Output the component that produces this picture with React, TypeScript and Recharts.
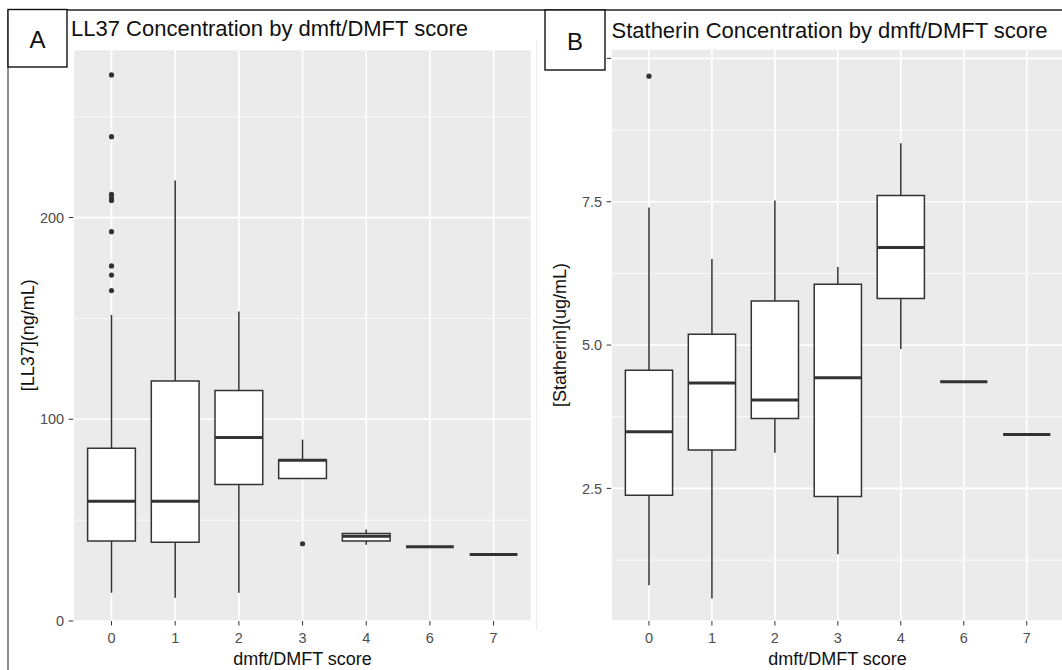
import React from "react";
import { ScatterChart, Scatter, XAxis, YAxis, CartesianGrid, ReferenceArea, ReferenceLine } from "recharts";

const scores = ["0", "1", "2", "3", "4", "6", "7"];

// LL37 (ng/mL) box statistics per dmft/DMFT score
const ll37Low = [14.0, 11.5, 14.0, 70.7, 37.8, 36.8, 33.0];
const ll37Q1 = [39.7, 39.0, 67.7, 70.7, 39.7, 36.8, 33.0];
const ll37Median = [59.3, 59.3, 91.0, 79.7, 42.0, 36.8, 33.0];
const ll37Q3 = [85.6, 119.0, 114.2, 79.9, 43.4, 36.8, 33.0];
const ll37High = [151.7, 218.3, 153.4, 89.9, 45.4, 36.8, 33.0];
const ll37OutlierScores = ["0", "0", "0", "0", "0", "0", "0", "0", "0", "3"];
const ll37OutlierValues = [270.7, 240.1, 211.5, 209.8, 208.5, 193.0, 176.0, 171.5, 163.8, 38.3];
const ll37Ticks = [0, 100, 200];
const ll37Minor = [50, 150, 250];

// Statherin (ug/mL)
const sthLow = [0.81, 0.58, 3.12, 1.35, 4.93, 4.36, 3.44];
const sthQ1 = [2.38, 3.17, 3.72, 2.36, 5.81, 4.36, 3.44];
const sthMedian = [3.49, 4.34, 4.04, 4.43, 6.7, 4.36, 3.44];
const sthQ3 = [4.56, 5.19, 5.77, 6.06, 7.61, 4.36, 3.44];
const sthHigh = [7.4, 6.5, 7.52, 6.36, 8.52, 4.36, 3.44];
const sthOutlierScores = ["0"];
const sthOutlierValues = [9.69];
const sthTicks = [2.5, 5, 7.5, 10];
const sthMinor = [1.25, 3.75, 6.25, 8.75];

const FONT = '"Liberation Sans", Arial, sans-serif';
const INK = "#333333";
const HALF = 0.375;

function BoxPanel(props: any) {
  const { low, q1, median, q3, high, outlierScores, outlierValues, yDomain, yTicks, yMinor, yFormat, width, margin, yAxisWidth } = props;
  const outliers = outlierValues.map((v: number, k: number) => ({ i: scores.indexOf(outlierScores[k]), v }));
  const tickStyle = { fill: "#4D4D4D", fontSize: 14.5, fontFamily: FONT };

  return (
    <ScatterChart width={width} height={670} margin={margin}>
      <CartesianGrid fill="#EBEBEB" fillOpacity={1} stroke="#ffffff" strokeWidth={0.8} vertical={false} horizontalValues={yMinor} />
      <CartesianGrid stroke="#ffffff" strokeWidth={1.7} />
      <XAxis
        type="number"
        dataKey="i"
        domain={[-0.6, 6.6]}
        allowDataOverflow
        ticks={scores.map((_, i) => i)}
        tickFormatter={(i: number) => scores[i]}
        interval={0}
        axisLine={false}
        tickLine={{ stroke: INK }}
        tickSize={4.5}
        tickMargin={7}
        height={49}
        tick={tickStyle}
      />
      <YAxis
        type="number"
        dataKey="v"
        domain={yDomain}
        allowDataOverflow
        ticks={yTicks}
        tickFormatter={yFormat}
        interval={0}
        axisLine={false}
        tickLine={{ stroke: INK }}
        tickSize={4.5}
        tickMargin={4.6}
        width={yAxisWidth}
        tick={tickStyle}
      />
      {scores.map((s, i) => (
        <ReferenceLine key={"lw" + s} segment={[{ x: i, y: low[i] }, { x: i, y: q1[i] }]} stroke={INK} strokeWidth={1.5} />
      ))}
      {scores.map((s, i) => (
        <ReferenceLine key={"hw" + s} segment={[{ x: i, y: q3[i] }, { x: i, y: high[i] }]} stroke={INK} strokeWidth={1.5} />
      ))}
      {scores.map((s, i) => (
        <ReferenceArea key={"box" + s} x1={i - HALF} x2={i + HALF} y1={q1[i]} y2={q3[i]} fill="#ffffff" fillOpacity={1} stroke={INK} strokeWidth={1.5} />
      ))}
      {scores.map((s, i) => (
        <ReferenceLine key={"med" + s} segment={[{ x: i - HALF, y: median[i] }, { x: i + HALF, y: median[i] }]} stroke={INK} strokeWidth={3} />
      ))}
      <Scatter
        data={outliers}
        isAnimationActive={false}
        shape={(p: any) => <circle cx={p.cx} cy={p.cy} r={2.6} fill={INK} />}
      />
    </ScatterChart>
  );
}

export default function App() {
  return (
    <div style={{ position: "absolute", left: 0, top: 0, width: 1062, height: 670, overflow: "hidden", background: "#fff" }}>
      <div style={{ position: "absolute", left: 0, top: 0 }}>
        <BoxPanel
          low={ll37Low}
          q1={ll37Q1}
          median={ll37Median}
          q3={ll37Q3}
          high={ll37High}
          outlierScores={ll37OutlierScores}
          outlierValues={ll37OutlierValues}
          yDomain={[0, 283.3]}
          yTicks={ll37Ticks}
          yMinor={ll37Minor}
          yFormat={(v: number) => String(v)}
          width={532}
          margin={{ top: 49.5, right: 0.2, bottom: 0, left: 0 }}
          yAxisWidth={73.3}
        />
      </div>
      <div style={{ position: "absolute", left: 534, top: 0 }}>
        <BoxPanel
          low={sthLow}
          q1={sthQ1}
          median={sthMedian}
          q3={sthQ3}
          high={sthHigh}
          outlierScores={sthOutlierScores}
          outlierValues={sthOutlierValues}
          yDomain={[0.187, 10.164]}
          yTicks={sthTicks}
          yMinor={sthMinor}
          yFormat={(v: number) => v.toFixed(1)}
          width={540}
          margin={{ top: 49, right: 9.5, bottom: 0, left: 0 }}
          yAxisWidth={77.2}
        />
      </div>
      <svg width={1062} height={670} style={{ position: "absolute", left: 0, top: 0, pointerEvents: "none" }} fontFamily={FONT}>
        <line x1={8} y1={10} x2={1062} y2={10} stroke="#222" strokeWidth={1.3} />
        <line x1={8} y1={10} x2={8} y2={670} stroke="#666" strokeWidth={1.5} />
        <line x1={536.5} y1={40} x2={536.5} y2={630} stroke="#ececec" strokeWidth={1} />
        <rect x={8} y={9.5} width={59} height={57.5} fill="#fff" stroke="#111" strokeWidth={1.4} />
        <text x={37.5} y={48} textAnchor="middle" fontSize={24} fill="#111">A</text>
        <rect x={545} y={10} width={60} height={60} fill="#fff" stroke="#111" strokeWidth={1.4} />
        <text x={575} y={49.5} textAnchor="middle" fontSize={24} fill="#111">B</text>
        <text x={71} y={35.5} fontSize={22} fill="#111">LL37 Concentration by dmft/DMFT score</text>
        <text x={611.5} y={38} fontSize={22} fill="#111">Statherin Concentration by dmft/DMFT score</text>
        <text x={302.5} y={665} textAnchor="middle" fontSize={18} fill="#111">dmft/DMFT score</text>
        <text x={837.5} y={665} textAnchor="middle" fontSize={18} fill="#111">dmft/DMFT score</text>
        <text transform="translate(34,335.3) rotate(-90)" textAnchor="middle" fontSize={18} fill="#111">[LL37](ng/mL)</text>
        <text transform="translate(566,335) rotate(-90)" textAnchor="middle" fontSize={18} fill="#111">[Statherin](ug/mL)</text>
      </svg>
    </div>
  );
}
